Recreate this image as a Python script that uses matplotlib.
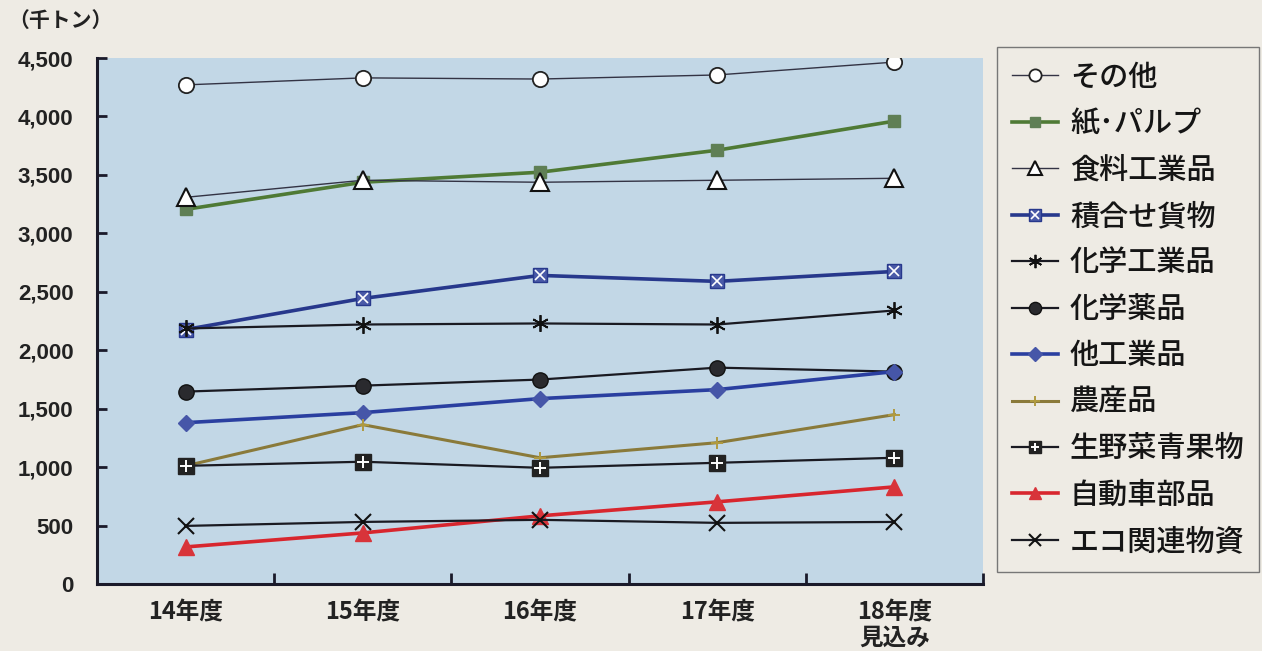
import matplotlib
matplotlib.use("Agg")
import matplotlib.pyplot as plt
from matplotlib.legend_handler import HandlerTuple

plt.rcParams['font.family'] = ['Noto Sans CJK JP', 'DejaVu Sans']

years = ["14年度", "15年度", "16年度", "17年度", "18年度\n見込み"]
yticks = [0, 500, 1000, 1500, 2000, 2500, 3000, 3500, 4000, 4500]
ytick_labels = ["0", "500", "1,000", "1,500", "2,000", "2,500", "3,000", "3,500", "4,000", "4,500"]
unit_label = "（千トン）"

sonota = [4270, 4330, 4320, 4355, 4465]
kami_pulp = [3205, 3437, 3523, 3711, 3960]
shokuryo = [3308, 3454, 3437, 3454, 3471]
tsumiawase = [2177, 2443, 2640, 2589, 2674]
kagaku_kogyo = [2186, 2220, 2229, 2220, 2340]
kagaku_yakuhin = [1646, 1697, 1749, 1851, 1817]
ta_kogyo = [1380, 1466, 1586, 1663, 1817]
nosan = [1011, 1363, 1080, 1209, 1449]
seiyasai = [1011, 1046, 994, 1037, 1080]
jidosha = [317, 437, 583, 703, 831]
eco = [497, 531, 549, 523, 531]

paper = "#eeebe4"
bg = "#c2d7e6"

fig = plt.figure(figsize=(12.62, 6.51), dpi=100, facecolor=paper)
ax = fig.add_axes([97/1262, 1-584/651, (983-97)/1262, (584-58)/651])
ax.set_facecolor(bg)

x = list(range(len(years)))
handles = []
labels = []

def add(h, lab):
    handles.append(h)
    labels.append(lab)

h, = ax.plot(x, sonota, color="#333344", lw=1.0, marker="o", ms=11, mfc="white", mec="#222222", mew=1.3)
add(h, "その他")
h, = ax.plot(x, kami_pulp, color="#4f7a35", lw=2.6, marker="s", ms=9, mfc="#5f7f55", mec="#5f7f55")
add(h, "紙･パルプ")
h, = ax.plot(x, shokuryo, color="#333344", lw=1.0, marker="^", ms=13, mfc="white", mec="#111111", mew=1.5)
add(h, "食料工業品")
h1, = ax.plot(x, tsumiawase, color="#27388c", lw=2.6, marker="s", ms=10, mfc="#4a5aa8", mec="#27388c")
h2, = ax.plot(x, tsumiawase, lw=0, marker="x", ms=7, mec="white", mew=1.2)
add((h1, h2), "積合せ貨物")
h, = ax.plot(x, kagaku_kogyo, color="#1a1a22", lw=1.6, marker=(6, 2, 0), ms=12, mec="#111111", mew=1.3)
add(h, "化学工業品")
h, = ax.plot(x, kagaku_yakuhin, color="#1a1a22", lw=1.6, marker="o", ms=11, mfc="#2a2a2e", mec="#111111")
add(h, "化学薬品")
h, = ax.plot(x, ta_kogyo, color="#2a3fa0", lw=2.6, marker="D", ms=8.5, mfc="#4656a8", mec="#4656a8")
add(h, "他工業品")
h, = ax.plot(x, nosan, color="#8a7a3a", lw=2.2, marker="+", ms=9, mec="#b09a40", mew=1.4)
add(h, "農産品")
h1, = ax.plot(x, seiyasai, color="#1a1a22", lw=1.6, marker="s", ms=11, mfc="#222222", mec="#222222")
h2, = ax.plot(x, seiyasai, lw=0, marker="+", ms=8, mec="white", mew=1.4)
add((h1, h2), "生野菜青果物")
h, = ax.plot(x, jidosha, color="#d8262e", lw=2.6, marker="^", ms=11, mfc="#d8343a", mec="#d8343a")
add(h, "自動車部品")
h, = ax.plot(x, eco, color="#1a1a22", lw=1.6, marker="x", ms=11, mec="#111111", mew=1.5)
add(h, "エコ関連物資")

ax.set_xlim(-0.5, 4.5)
ax.set_ylim(0, 4500)
for s in ["top", "right"]:
    ax.spines[s].set_visible(False)
for s in ["left", "bottom"]:
    ax.spines[s].set_linewidth(2.2)
    ax.spines[s].set_color("#1a1a2a")

ax.set_yticks(yticks)
ax.set_yticklabels(ytick_labels, fontfamily="Liberation Sans", fontweight="bold", fontsize=16, color="#222222")
ax.tick_params(axis="y", direction="in", length=7, width=2, pad=17, color="#1a1a2a")

ax.set_xticks(x)
ax.set_xticklabels(years, fontweight="bold", fontsize=17, color="#222222", linespacing=1.05)
ax.tick_params(axis="x", which="major", length=0, pad=12)
ax.set_xticks([0.5, 1.5, 2.5, 3.5, 4.5], minor=True)
ax.tick_params(axis="x", which="minor", direction="in", length=8, width=2, color="#1a1a2a")

fig.text(8/1262, 1-20/651, unit_label, fontsize=15, fontweight="bold", color="#222222", va="center", ha="left")

leg = fig.legend(handles, labels, loc="upper left", bbox_to_anchor=(997/1262, 1-47/651),
                 handler_map={tuple: HandlerTuple(ndivide=1)},
                 prop={"family": ["Noto Sans CJK JP", "DejaVu Sans"], "size": 21, "weight": "medium"},
                 frameon=True, fancybox=False, facecolor=paper, edgecolor="#777777",
                 handlelength=1.6, handletextpad=0.4, labelspacing=0.53, borderpad=0.5,
                 borderaxespad=0, markerscale=0.8)
for t in leg.get_texts():
    t.set_color("#151515")
leg.get_frame().set_linewidth(1.0)
leg.get_frame().set_alpha(1)

fig.savefig("out.png", dpi=100, facecolor=paper)
